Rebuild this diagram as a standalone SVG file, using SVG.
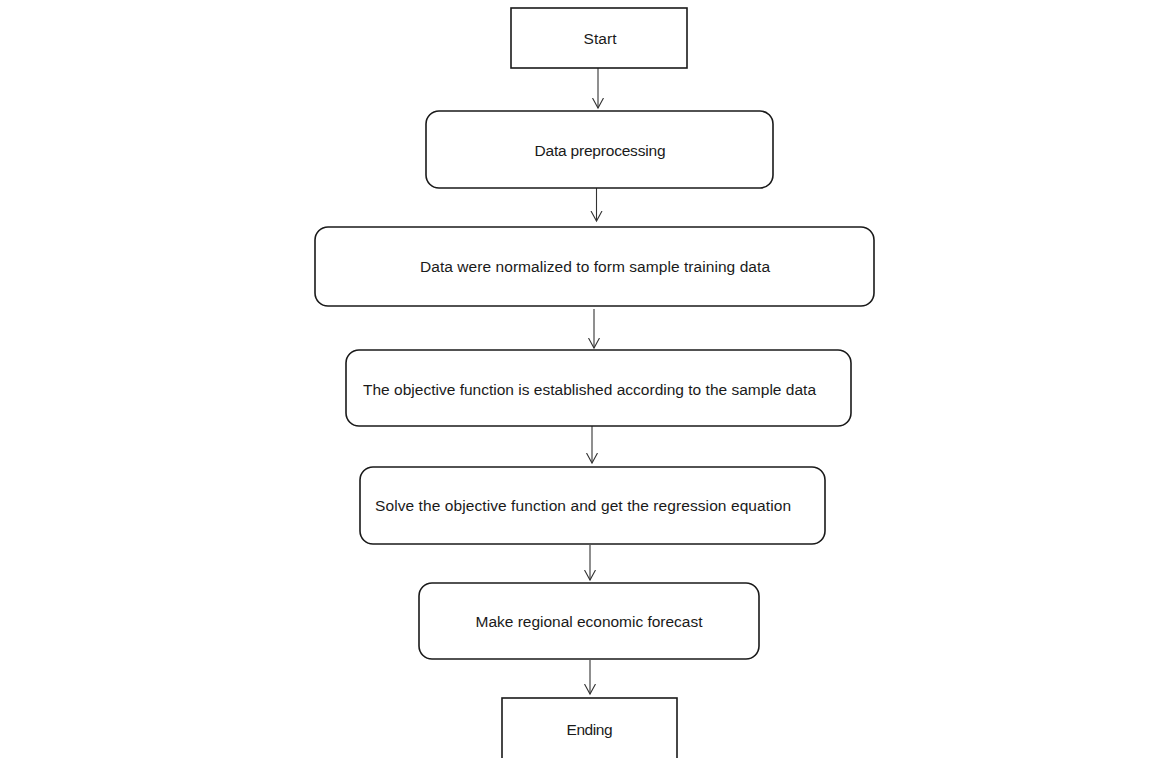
<svg xmlns="http://www.w3.org/2000/svg" width="1174" height="758" viewBox="0 0 1174 758">
<style>
.box{fill:#fff;stroke:#1a1a1a;stroke-width:1.6}
.lbl{font-family:"Liberation Sans",Arial,sans-serif;font-size:15.5px;fill:#1a1a1a;text-anchor:middle}
.conn{stroke:#333;stroke-width:1.1;fill:none}
</style>
<defs>
<marker id="arr" markerUnits="userSpaceOnUse" markerWidth="14" markerHeight="14" refX="10" refY="6" orient="auto">
<path d="M0,0.5 L10,6 L0,11.5" fill="none" stroke="#333" stroke-width="1.1"/>
</marker>
</defs>
<rect width="1174" height="758" fill="#fff"/>
<g id="connectors">
<line class="conn" x1="598" y1="68" x2="598" y2="108" marker-end="url(#arr)"/>
<line class="conn" x1="596.5" y1="188" x2="596.5" y2="221" marker-end="url(#arr)"/>
<line class="conn" x1="594" y1="309" x2="594" y2="348" marker-end="url(#arr)"/>
<line class="conn" x1="592" y1="426" x2="592" y2="463" marker-end="url(#arr)"/>
<line class="conn" x1="590" y1="545" x2="590" y2="580" marker-end="url(#arr)"/>
<line class="conn" x1="590" y1="660" x2="590" y2="694" marker-end="url(#arr)"/>
</g>
<g id="start">
<rect class="box" x="511" y="8" width="176" height="60"/>
<text class="lbl" x="600" y="44" textLength="33">Start</text>
</g>
<g id="preprocess">
<rect class="box" x="426" y="111" width="347" height="77" rx="13"/>
<text class="lbl" x="600" y="156" textLength="131">Data preprocessing</text>
</g>
<g id="normalize">
<rect class="box" x="315" y="227" width="559" height="79" rx="13"/>
<text class="lbl" x="595" y="272" textLength="350">Data were normalized to form sample training data</text>
</g>
<g id="objective">
<rect class="box" x="346" y="350" width="505" height="76" rx="13"/>
<text class="lbl" x="589.5" y="395" textLength="453">The objective function is established according to the sample data</text>
</g>
<g id="solve">
<rect class="box" x="360" y="467" width="465" height="77" rx="13"/>
<text class="lbl" x="583" y="511" textLength="416">Solve the objective function and get the regression equation</text>
</g>
<g id="forecast">
<rect class="box" x="419" y="583" width="340" height="76" rx="13"/>
<text class="lbl" x="589" y="627" textLength="227">Make regional economic forecast</text>
</g>
<g id="ending">
<rect class="box" x="502" y="698" width="175" height="70"/>
<text class="lbl" x="589.5" y="735" textLength="46">Ending</text>
</g>
</svg>
